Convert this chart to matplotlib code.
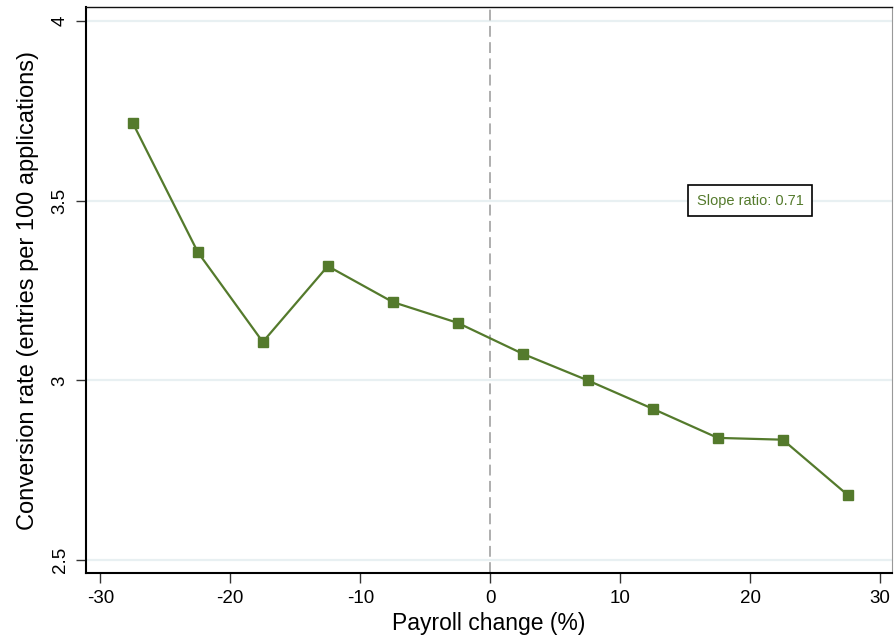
import numpy as np
import matplotlib.pyplot as plt

plt.rcParams['font.family'] = ['Liberation Sans', 'DejaVu Sans']

# binned payroll change (bin midpoints) and conversion rate per bin
payroll_bins = [-27.5, -22.5, -17.5, -12.5, -7.5, -2.5, 2.5, 7.5, 12.5, 17.5, 22.5, 27.5]
conv_rate = [3.716, 3.357, 3.107, 3.318, 3.218, 3.160, 3.074, 3.000, 2.921, 2.840, 2.835, 2.681]
x_ticks = [-30, -20, -10, 0, 10, 20, 30]
y_ticks = [2.5, 3, 3.5, 4]
y_tick_labels = ['2.5', '3', '3.5', '4']
slope_ratio = 0.71

green = '#547a2c'

fig = plt.figure(figsize=(8.95, 6.35), dpi=100)
ax = fig.add_axes([0.0961, 0.0976, 0.9005, 0.8914])

for yv in y_ticks:
    ax.axhline(yv, color='#e8f0f2', lw=1.6, zorder=0)
ax.axvline(0, color='#a8a8a8', lw=1.3, ls=(0, (6, 3)), zorder=1)

ax.plot(payroll_bins, conv_rate, color=green, lw=1.6, marker='s', ms=7,
        markeredgecolor=green, zorder=3)

ax.text(20, 3.5, 'Slope ratio: %.2f' % slope_ratio, color=green, fontsize=10.5,
        ha='center', va='center',
        bbox=dict(boxstyle='square,pad=0.6', fc='white', ec='black', lw=1.2))

ax.set_xlim(-31.1, 30.9)
ax.set_ylim(2.464, 4.039)
ax.set_xticks(x_ticks)
ax.set_xticklabels([str(t) for t in x_ticks])
ax.set_yticks(y_ticks)
ax.set_yticklabels(y_tick_labels, rotation=90, va='center')
ax.tick_params(direction='out', length=7.5, width=1, labelsize=13.5, color='#333333')
ax.tick_params(axis='x', pad=5)
ax.tick_params(axis='y', pad=5)

for s in ['left', 'bottom']:
    ax.spines[s].set_linewidth(1.5)
ax.spines['top'].set_linewidth(1.0)
ax.spines['right'].set_color('#999999')
ax.spines['top'].set_color('#111111')

ax.set_xlabel('Payroll change (%)', fontsize=16.5, labelpad=3)
ax.set_ylabel('Conversion rate (entries per 100 applications)', fontsize=17, labelpad=9)

fig.savefig('out.png', dpi=100)
